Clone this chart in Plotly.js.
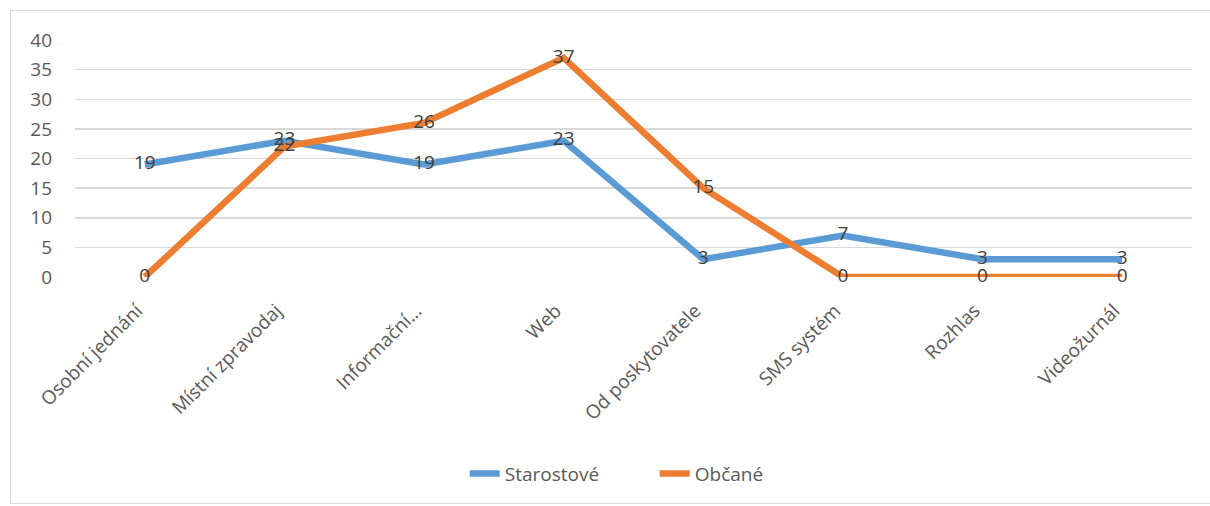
<!DOCTYPE html>
<html><head><meta charset="utf-8">
<script src="https://cdn.plot.ly/plotly-3.0.1.min.js"></script>
<style>
html,body{margin:0;padding:0;background:#fff;}
#wrap{position:relative;width:1210px;height:506px;}
#chart{width:1210px;height:506px;}
#frame{position:absolute;left:10px;top:10px;width:1210px;height:494px;border:1.5px solid #d9d9d9;pointer-events:none;box-sizing:border-box;}
</style></head>
<body>
<div id="wrap"><div id="chart"></div><div id="frame"></div></div>
<script>
const categories = ["Osobní jednání","Místní zpravodaj","Informační…","Web","Od poskytovatele","SMS systém","Rozhlas","Videožurnál"];
const starostove = [19,23,19,23,3,7,3,3];
const obcane = [0,22,26,37,15,0,0,0];
const yTicks = [0,5,10,15,20,25,30,35,40];

const font = "'Open Sans', Lato, sans-serif";
const lab = {family: font, size: 19, color: "#404040"};
const tickFont = {family: font, size: 19, color: "#595959"};

const traces = [
  {x: categories, y: starostove, name: "Starostové", type: "scatter", mode: "lines",
   line: {color: "#5B9BD5", width: 6.5}, cliponaxis: false},
  {x: categories, y: obcane, name: "Občané", type: "scatter", mode: "lines",
   line: {color: "#ED7D31", width: 6.5}, cliponaxis: false},
  {x: categories, y: starostove, type: "scatter", mode: "text", text: starostove.map(String),
   textposition: "middle center", textfont: lab, showlegend: false, hoverinfo: "skip", cliponaxis: false},
  {x: categories, y: obcane, type: "scatter", mode: "text", text: obcane.map(String),
   textposition: "middle center", textfont: lab, showlegend: false, hoverinfo: "skip", cliponaxis: false}
];

const layout = {
  width: 1210, height: 506,
  margin: {l: 75, r: 18, t: 40, b: 229},
  paper_bgcolor: "#fff", plot_bgcolor: "#fff",
  font: {family: font, size: 19, color: "#595959"},
  xaxis: {type: "category", range: [-0.5, 7.5], tickangle: -45, showgrid: false,
          zeroline: false, showline: false, ticks: "", tickfont: tickFont,
          ticklabelstandoff: 18, ticklabelshift: -8},
  yaxis: {range: [0, 40], tickvals: yTicks, showgrid: true, gridcolor: "#d9d9d9", gridwidth: 1.5,
          zeroline: false, showline: false, ticks: "", ticklabelstandoff: 22, tickfont: tickFont},
  showlegend: true,
  legend: {orientation: "h", x: 0.519, xanchor: "center", y: -0.83, yanchor: "middle",
           entrywidth: 145, entrywidthmode: "pixels",
           font: {family: font, size: 19, color: "#595959"}, tracegroupgap: 10}
};

Plotly.newPlot("chart", traces, layout, {displayModeBar: false, staticPlot: true});
</script>
</body></html>
